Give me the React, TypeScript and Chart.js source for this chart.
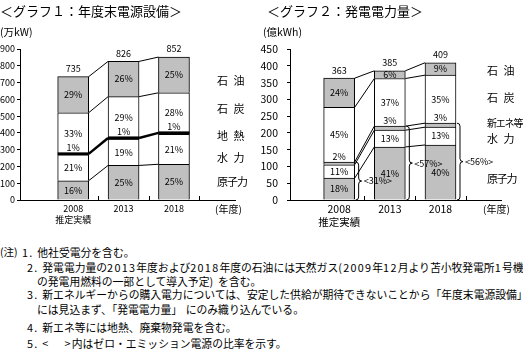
import React, { useEffect, useRef } from "react";
import { Chart, registerables } from "chart.js";

Chart.register(...registerables);

const FONT = '"Noto Sans CJK JP", "Noto Sans", sans-serif';

// categories
const years = ["2008", "2013", "2018"];
const yearNote = "推定実績";
const yearUnit = "(年度)";

// グラフ1：年度末電源設備 (万kW)
const capNames = ["原子力", "水力", "地熱", "石炭", "石油"];
const capNuclear = [115, 206, 213];
const capHydro = [155, 157, 179];
const capGeo = [5, 7, 8];
const capCoal = [245, 246, 239];
const capOil = [215, 210, 213];
const capTotal = [735, 826, 852];
const capNuclearPct = [16, 25, 25];
const capHydroPct = [21, 19, 21];
const capGeoPct = [1, 1, 1];
const capCoalPct = [33, 29, 28];
const capOilPct = [29, 26, 25];
const capAxisMax = 900;
const capAxisStep = 100;

// グラフ2：発電電力量 (億kWh)
const genNames = ["原子力", "水力", "新エネ等", "石炭", "石油"];
const genNuclear = [65, 158, 164];
const genHydro = [40, 50, 53];
const genNew = [8, 12, 12];
const genCoal = [163, 142, 143];
const genOil = [87, 23, 37];
const genTotal = [363, 385, 409];
const genNuclearPct = [18, 41, 40];
const genHydroPct = [11, 13, 13];
const genNewPct = [2, 3, 3];
const genCoalPct = [45, 37, 35];
const genOilPct = [24, 6, 9];
const genZeroPct = [31, 57, 56];
const genAxisMax = 450;
const genAxisStep = 50;

const GRAY = "#c0c0c0";

type Series = { label: string; data: number[]; pct: number[]; color: string; above?: boolean };
type Cfg = {
  series: Series[];
  totals: number[];
  yMax: number;
  yStep: number;
  xMin: number;
  axisWidth: number;
  padRight: number;
  yFont: number;
  yPad: number;
  xFont: number;
  connectors: { ds: number; width: number; barLine?: number }[];
  zero?: number[];
  zeroCount?: number;
};

function drawBrace(ctx: CanvasRenderingContext2D, x: number, yTop: number, yBot: number) {
  const mid = (yTop + yBot) / 2;
  const r = 3;
  ctx.beginPath();
  ctx.moveTo(x - 3, yTop);
  ctx.quadraticCurveTo(x, yTop, x, yTop + r);
  ctx.lineTo(x, mid - r);
  ctx.quadraticCurveTo(x, mid, x + 3, mid);
  ctx.quadraticCurveTo(x, mid, x, mid + r);
  ctx.lineTo(x, yBot - r);
  ctx.quadraticCurveTo(x, yBot, x - 3, yBot);
  ctx.stroke();
}

function makeChart(canvas: HTMLCanvasElement, cfg: Cfg) {
  const plugin = {
    id: "annot",
    afterDatasetsDraw(chart: any) {
      const ctx: CanvasRenderingContext2D = chart.ctx;
      const xs = chart.scales.x;
      const ys = chart.scales.y;
      ctx.save();
      ctx.strokeStyle = "#000";
      ctx.fillStyle = "#000";
      // connectors between bars
      cfg.connectors.forEach(({ ds, width, barLine }) => {
        const els = chart.getDatasetMeta(ds).data;
        ctx.lineWidth = width;
        for (let i = 0; i < els.length - 1; i++) {
          const a = els[i];
          const b = els[i + 1];
          ctx.beginPath();
          ctx.moveTo(a.x + a.width / 2, a.y);
          ctx.lineTo(b.x - b.width / 2, b.y);
          ctx.stroke();
        }
        if (barLine) {
          ctx.lineWidth = barLine;
          els.forEach((e: any) => {
            ctx.beginPath();
            ctx.moveTo(e.x - e.width / 2, e.y);
            ctx.lineTo(e.x + e.width / 2, e.y);
            ctx.stroke();
          });
        }
      });
      // small upward ticks on x axis
      ctx.lineWidth = 1;
      const yb = ys.getPixelForValue(0);
      [0.5, 1.5, 2.5].forEach((v) => {
        const px = Math.round(xs.getPixelForValue(v)) + 0.5;
        ctx.beginPath();
        ctx.moveTo(px, yb);
        ctx.lineTo(px, yb - 4);
        ctx.stroke();
      });
      // percentage labels
      ctx.font = `9px ${FONT}`;
      ctx.textAlign = "center";
      ctx.textBaseline = "middle";
      cfg.series.forEach((s, d) => {
        const els = chart.getDatasetMeta(d).data;
        els.forEach((e: any, i: number) => {
          const y = s.above ? e.y - 6 : (e.y + e.base) / 2;
          ctx.fillText(s.pct[i] + "%", e.x, y);
        });
      });
      // totals
      const topEls = chart.getDatasetMeta(cfg.series.length - 1).data;
      topEls.forEach((e: any, i: number) => {
        ctx.fillText(String(cfg.totals[i]), e.x, e.y - 8);
      });
      // zero-emission braces
      if (cfg.zero && cfg.zeroCount) {
        ctx.textAlign = "left";
        ctx.lineWidth = 1;
        const base = chart.getDatasetMeta(0).data;
        base.forEach((e: any, i: number) => {
          let sum = 0;
          for (let d = 0; d < cfg.zeroCount!; d++) sum += cfg.series[d].data[i];
          const yTop = ys.getPixelForValue(sum);
          const x = e.x + e.width / 2 + 4;
          drawBrace(ctx, x, yTop, yb);
          ctx.fillText(`<${cfg.zero![i]}%>`, x + 5, (yTop + yb) / 2);
        });
      }
      ctx.restore();
    },
  };

  return new Chart(canvas, {
    type: "bar",
    data: {
      labels: years,
      datasets: cfg.series.map((s) => ({
        label: s.label,
        data: s.data.map((v, i) => ({ x: i, y: v })),
        backgroundColor: s.color,
        borderColor: "#000",
        borderWidth: 1,
        barThickness: 31,
      })),
    },
    options: {
      animation: false,
      responsive: false,
      layout: { padding: { top: 49, right: cfg.padRight, left: 0, bottom: 0 } },
      plugins: { legend: { display: false }, tooltip: { enabled: false } },
      scales: {
        x: {
          type: "linear",
          min: cfg.xMin,
          max: 2.5,
          stacked: true,
          grid: { display: false, drawTicks: false },
          border: { display: true, color: "#000", width: 1 },
          ticks: {
            color: "#000",
            autoSkip: false,
            maxRotation: 0,
            padding: 3,
            font: { family: FONT, size: cfg.xFont },
            callback: (v: any) => (v === 0 ? [years[0], yearNote] : years[v]),
          },
          afterBuildTicks: (scale: any) => {
            scale.ticks = [0, 1, 2].map((v) => ({ value: v }));
          },
          afterFit: (scale: any) => {
            scale.height = 30;
          },
        },
        y: {
          stacked: true,
          min: 0,
          max: cfg.yMax,
          grid: { drawOnChartArea: false, color: "#000", tickLength: 3 },
          border: { color: "#000", width: 1 },
          ticks: {
            stepSize: cfg.yStep,
            color: "#000",
            padding: cfg.yPad,
            font: { family: FONT, size: cfg.yFont },
          },
          afterFit: (scale: any) => {
            scale.width = cfg.axisWidth;
          },
        },
      },
    } as any,
    plugins: [plugin],
  });
}

const T = ({ x, y, s = 11, ls = 0, children }: any) => (
  <div
    style={{
      position: "absolute",
      left: x,
      top: y,
      transform: "translateY(-50%)",
      fontSize: s,
      lineHeight: 1,
      letterSpacing: ls,
      whiteSpace: "pre",
      fontFamily: FONT,
      color: "#000",
    }}
  >
    {children}
  </div>
);

// note line: ASCII runs get extra letter spacing (the original font has wide digits)
const N = ({ x, y, text }: { x: number; y: number; text: string }) => (
  <T x={x} y={y} s={10.8}>
    {text.split(/([\x20-\x7e]+)/).map((part, i) =>
      /^[\x20-\x7e]+$/.test(part) ? (
        <span key={i} style={{ letterSpacing: 1.3 }}>
          {part}
        </span>
      ) : (
        <span key={i}>{part}</span>
      )
    )}
  </T>
);

const spaced = (n: string) => (n.length === 2 ? n[0] + "\u2002" + n[1] : n);

export default function App() {
  const c1 = useRef<HTMLCanvasElement>(null);
  const c2 = useRef<HTMLCanvasElement>(null);

  useEffect(() => {
    const ch1 = makeChart(c1.current!, {
      series: [
        { label: capNames[0], data: capNuclear, pct: capNuclearPct, color: GRAY },
        { label: capNames[1], data: capHydro, pct: capHydroPct, color: "#fff" },
        { label: capNames[2], data: capGeo, pct: capGeoPct, color: "#000", above: true },
        { label: capNames[3], data: capCoal, pct: capCoalPct, color: "#fff" },
        { label: capNames[4], data: capOil, pct: capOilPct, color: GRAY },
      ],
      totals: capTotal,
      yMax: capAxisMax,
      yStep: capAxisStep,
      xMin: -0.344,
      axisWidth: 20,
      padRight: 25,
      yFont: 9,
      yPad: 2,
      xFont: 9,
      connectors: [
        { ds: 0, width: 1 },
        { ds: 2, width: 2.5, barLine: 3 },
        { ds: 3, width: 1 },
        { ds: 4, width: 1 },
      ],
    });
    const ch2 = makeChart(c2.current!, {
      series: [
        { label: genNames[0], data: genNuclear, pct: genNuclearPct, color: GRAY },
        { label: genNames[1], data: genHydro, pct: genHydroPct, color: "#fff" },
        { label: genNames[2], data: genNew, pct: genNewPct, color: GRAY, above: true },
        { label: genNames[3], data: genCoal, pct: genCoalPct, color: "#fff" },
        { label: genNames[4], data: genOil, pct: genOilPct, color: GRAY },
      ],
      totals: genTotal,
      yMax: genAxisMax,
      yStep: genAxisStep,
      xMin: -0.276,
      axisWidth: 30,
      padRight: 22,
      yFont: 10.5,
      yPad: 9,
      xFont: 10.5,
      connectors: [
        { ds: 0, width: 1 },
        { ds: 1, width: 1 },
        { ds: 2, width: 1 },
        { ds: 3, width: 1 },
        { ds: 4, width: 1 },
      ],
      zero: genZeroPct,
      zeroCount: 3,
    });
    return () => {
      ch1.destroy();
      ch2.destroy();
    };
  }, []);

  const capLabelY = [181, 157, 135, 108, 80];
  const genLabelY = [178, 138, 123, 97, 70];

  return (
    <div
      style={{
        position: "fixed",
        left: 0,
        top: 0,
        width: 523,
        height: 353,
        background: "#fff",
        overflow: "hidden",
        fontFamily: FONT,
      }}
    >
      <canvas
        ref={c1}
        width={260}
        height={230}
        style={{ position: "absolute", left: 0, top: 0, width: 260, height: 230 }}
      />
      <canvas
        ref={c2}
        width={263}
        height={230}
        style={{ position: "absolute", left: 260, top: 0, width: 263, height: 230 }}
      />
      <T x={0} y={10} s={13}>＜グラフ１：年度末電源設備＞</T>
      <T x={267} y={10} s={13}>＜グラフ２：発電電力量＞</T>
      <T x={0} y={32} s={10.5}>(万kW)</T>
      <T x={263} y={32} s={10.5}>(億kWh)</T>
      {capNames.map((n, i) => (
        <T key={"c" + i} x={217} y={capLabelY[i]} s={11} ls={n.length === 3 ? -1 : 0}>
          {spaced(n)}
        </T>
      ))}
      {genNames.map((n, i) => (
        <T key={"g" + i} x={487} y={genLabelY[i]} s={n.length === 4 ? 10 : 11} ls={n.length >= 3 ? -1.2 : 0}>
          {spaced(n)}
        </T>
      ))}
      <T x={215} y={209} s={10}>{yearUnit}</T>
      <T x={483} y={209} s={10}>{yearUnit}</T>

      <T x={0} y={252} s={10.5}>(注)</T>
      <N x={22} y={252} text="1. 他社受電分を含む。" />
      <N x={27} y={267} text="2. 発電電力量の2013年度および2018年度の石油には天然ガス(2009年12月より苫小牧発電所1号機" />
      <N x={37} y={281} text="の発電用燃料の一部として導入予定) を含む。" />
      <N x={27} y={294} text="3. 新エネルギーからの購入電力については、安定した供給が期待できないことから「年度末電源設備」" />
      <N x={37} y={309} text="には見込まず、「発電電力量」 にのみ織り込んでいる。" />
      <N x={27} y={327} text="4. 新エネ等には地熱、廃棄物発電を含む。" />
      <N x={27} y={343} text="5. <    >内はゼロ・エミッション電源の比率を示す。" />
    </div>
  );
}
